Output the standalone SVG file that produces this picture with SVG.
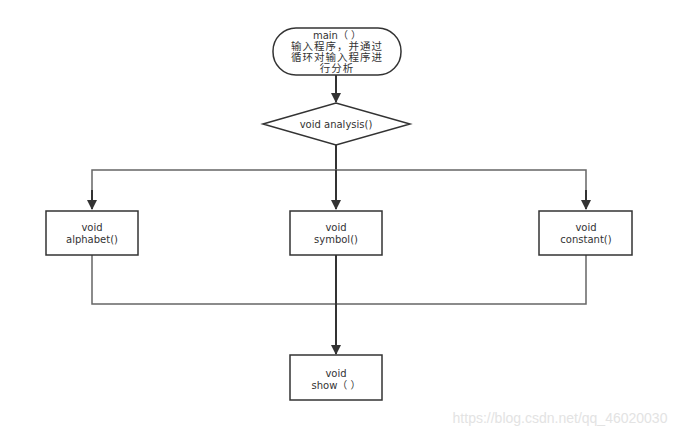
<svg xmlns="http://www.w3.org/2000/svg" width="692" height="438" viewBox="0 0 692 438">
<style>
.n{fill:#fff;stroke:#333;stroke-width:1.5}
.t{font-family:"DejaVu Sans","Noto Sans CJK SC",sans-serif;font-size:10px;fill:#333;text-anchor:middle}
.z{font-size:10.5px;letter-spacing:1px}
.c{fill:none;stroke:#333;stroke-width:2}
.h{fill:none;stroke:#666;stroke-width:1.5}
</style>
<defs>
<marker id="a" viewBox="0 0 10 10" refX="9" refY="5" markerWidth="5" markerHeight="5" orient="auto" markerUnits="strokeWidth">
<path d="M0,0 L10,5 L0,10 z" fill="#333"/>
</marker>
</defs>
<rect width="692" height="438" fill="#fff"/>
<g id="connectors">
<line class="c" x1="336" y1="75" x2="336" y2="102" marker-end="url(#a)"/>
<line class="c" x1="336" y1="145" x2="336" y2="170"/>
<polyline class="h" points="92,209 92,170 586,170 586,209"/>
<line class="c" x1="92" y1="190" x2="92" y2="209" marker-end="url(#a)"/>
<line class="c" x1="586" y1="190" x2="586" y2="209" marker-end="url(#a)"/>
<line class="c" x1="336" y1="170" x2="336" y2="209" marker-end="url(#a)"/>
<polyline class="h" points="92,255 92,304 586,304 586,255"/>
<line class="c" x1="336" y1="255" x2="336" y2="354" marker-end="url(#a)" stroke-width="2.5"/>
</g>
<g id="main">
<rect class="n" x="273" y="28" width="128" height="47" rx="23"/>
<text class="t" x="337" y="39">main（ ）</text>
<text class="t z" x="337" y="50">输入程序，并通过</text>
<text class="t z" x="337" y="61">循环对输入程序进</text>
<text class="t z" x="337" y="72">行分析</text>
</g>
<g id="analysis">
<polygon class="n" points="263,124 336,103 410,124 336,145"/>
<text class="t" x="336" y="128">void analysis()</text>
</g>
<g id="alphabet">
<rect class="n" x="46" y="211" width="92" height="44"/>
<text class="t" x="92" y="231">void</text>
<text class="t" x="92" y="243">alphabet()</text>
</g>
<g id="symbol">
<rect class="n" x="290" y="211" width="92" height="44"/>
<text class="t" x="336" y="231">void</text>
<text class="t" x="336" y="243">symbol()</text>
</g>
<g id="constant">
<rect class="n" x="539" y="211" width="93" height="44"/>
<text class="t" x="586" y="231">void</text>
<text class="t" x="586" y="243">constant()</text>
</g>
<g id="show">
<rect class="n" x="290" y="355" width="92" height="45"/>
<text class="t" x="336" y="377">void</text>
<text class="t" x="336" y="389">show（ ）</text>
</g>
<text x="560" y="423" font-family="Liberation Sans,Arial,sans-serif" font-size="14" fill="#e3e3e3" text-anchor="middle">https://blog.csdn.net/qq_46020030</text>
</svg>
